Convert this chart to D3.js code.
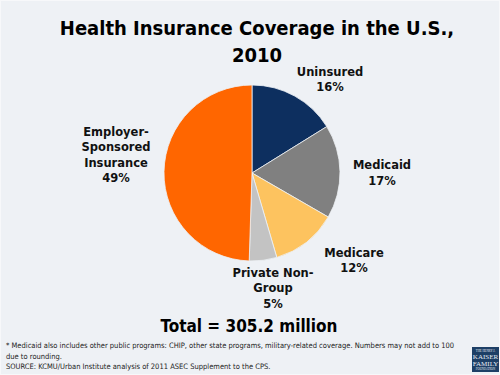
<!DOCTYPE html>
<html>
<head>
<meta charset="utf-8">
<script src="https://cdn.jsdelivr.net/npm/d3@7"></script>
<style>
	body { margin: 0; background: #eef1f5; }
	svg { display: block; }
</style>
</head>
<body>
<div id="chart"></div>
<script>

///////////////////////////////////////////////////////////////////////

const categories = [ "Uninsured", "Medicaid", "Medicare", "Private Non-Group", "Employer-Sponsored Insurance" ];
const shares = [ 16, 17, 12, 5, 49 ];
const colors = [ "#0d2f5f", "#808080", "#fdc35f", "#c3c3c3", "#ff6600" ];

// label lines and anchor points (label text only, positions set below)
const label_lines = [
	[ "Uninsured", "16%" ],
	[ "Medicaid", "17%" ],
	[ "Medicare", "12%" ],
	[ "Private Non-", "Group", "5%" ],
	[ "Employer-", "Sponsored", "Insurance", "49%" ]
];
const label_pos = [
	[ 330, 75.5 ],
	[ 382, 169 ],
	[ 354, 256.5 ],
	[ 273, 276.5 ],
	[ 116, 135.5 ]
];

const title_lines = [ "Health Insurance Coverage in the U.S.,", "2010" ];
const total_text = "Total = 305.2 million";
const notes = [
	"* Medicaid also includes other public programs: CHIP, other state programs, military-related coverage. Numbers may not add to 100",
	"due to rounding.",
	"SOURCE: KCMU/Urban Institute analysis of 2011 ASEC Supplement to the CPS."
];
const logo_lines = [ "THE HENRY J.", "KAISER", "FAMILY", "FOUNDATION" ];

///////////////////////////////////////////////////////////////////////

const width = 500, height = 375;
const cx = 252, cy = 173, radius = 88;

let svg = d3.select( "#chart" )
	.append( "svg" )
		.attr( "width", width )
		.attr( "height", height );

svg.append( "rect" )
	.attr( "x", 0.5 ).attr( "y", 0.5 )
	.attr( "width", width - 1 ).attr( "height", height - 1 )
	.attr( "fill", "#eef1f5" )
	.attr( "stroke", "#f7f8fa" );

// title
svg.append( "g" )
	.selectAll( "text" )
	.data( title_lines )
	.join( "text" )
		.attr( "x", 257 )
		.attr( "y", ( d, i ) => 34.5 + i * 27 )
		.attr( "text-anchor", "middle" )
		.attr( "font-family", "DejaVu Sans Condensed, DejaVu Sans" )
		.attr( "font-weight", "bold" )
		.attr( "font-size", 20 )
		.attr( "fill", "#000" )
		.text( d => d );

// pie
let pie = d3.pie()
	.sort( null )
	.value( d => d );

let arc = d3.arc()
	.innerRadius( 0 )
	.outerRadius( radius );

svg.append( "g" )
	.attr( "transform", "translate(" + cx + "," + cy + ")" )
	.selectAll( "path" )
	.data( pie( shares ) )
	.join( "path" )
		.attr( "d", arc )
		.attr( "fill", ( d, i ) => colors[ i ] )
		.attr( "stroke", "#eef1f5" )
		.attr( "stroke-width", 0.8 );

// slice labels
let labels = svg.append( "g" )
	.selectAll( "text" )
	.data( label_lines )
	.join( "text" )
		.attr( "text-anchor", "middle" )
		.attr( "font-family", "DejaVu Sans" )
		.attr( "font-weight", "bold" )
		.attr( "font-size", 11.5 )
		.attr( "fill", "#111" );

labels.each( function( lines, i )	{

	let t = d3.select( this );
	lines.forEach( ( s, j ) => {
		t.append( "tspan" )
			.attr( "x", label_pos[ i ][ 0 ] )
			.attr( "y", label_pos[ i ][ 1 ] + j * 15.5 )
			.text( s );
	} );
} );

// total
svg.append( "text" )
	.attr( "x", 249 )
	.attr( "y", 332 )
	.attr( "text-anchor", "middle" )
	.attr( "font-family", "DejaVu Sans Condensed, DejaVu Sans" )
	.attr( "font-weight", "bold" )
	.attr( "font-size", 17 )
	.attr( "fill", "#000" )
	.text( total_text );

// footnotes
svg.append( "g" )
	.selectAll( "text" )
	.data( notes )
	.join( "text" )
		.attr( "x", 6 )
		.attr( "y", ( d, i ) => 348 + i * 10.5 )
		.attr( "font-family", "DejaVu Sans Condensed, DejaVu Sans" )
		.attr( "font-size", 7.5 )
		.attr( "fill", "#222" )
		.text( d => d );

// logo
let logo = svg.append( "g" )
	.attr( "transform", "translate(472,347)" );

logo.append( "rect" )
	.attr( "width", 27 )
	.attr( "height", 25 )
	.attr( "fill", "#1d3f66" );

logo.selectAll( "text" )
	.data( logo_lines )
	.join( "text" )
		.attr( "x", 13.5 )
		.attr( "y", ( d, i ) => [ 5, 12, 18.5, 23 ][ i ] )
		.attr( "text-anchor", "middle" )
		.attr( "font-family", "Liberation Serif" )
		.attr( "font-size", ( d, i ) => ( i == 1 || i == 2 ) ? 7 : 3 )
		.attr( "fill", "#e8eef5" )
		.text( d => d );

</script>
</body>
</html>
